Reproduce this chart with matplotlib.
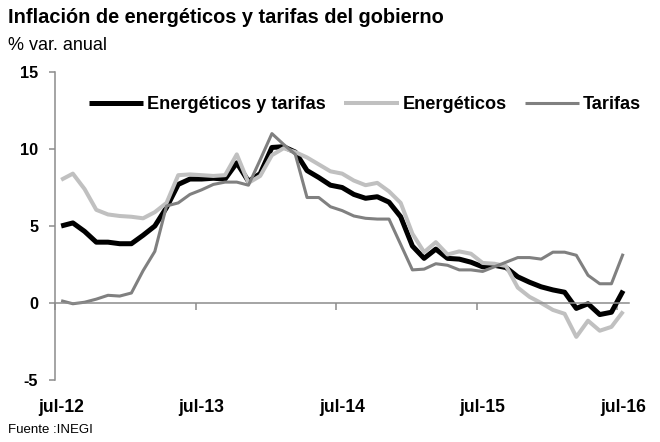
import numpy as np
import pandas as pd
import matplotlib
matplotlib.use("Agg")
import matplotlib.pyplot as plt
import matplotlib.transforms as mtransforms
from matplotlib import font_manager

# datos mensuales, jul-12 a jul-16 (% var. anual)
meses = pd.date_range("2012-07-01", "2016-07-01", freq="MS")
energ_tarifas = [5.0, 5.2, 4.65, 3.95, 3.95, 3.85, 3.85, 4.4, 5.0, 6.2, 7.7, 8.05,
                 8.05, 8.1, 8.05, 9.1, 7.9, 8.4, 10.1, 10.15, 9.8, 8.6, 8.15, 7.65,
                 7.5, 7.05, 6.8, 6.9, 6.55, 5.6, 3.7, 2.9, 3.5, 2.9, 2.85, 2.65,
                 2.35, 2.45, 2.3, 1.7, 1.35, 1.05, 0.85, 0.7, -0.35, -0.05, -0.75, -0.6,
                 0.8]
energeticos = [8.0, 8.4, 7.4, 6.05, 5.75, 5.65, 5.6, 5.5, 5.9, 6.5, 8.3, 8.35,
               8.3, 8.25, 8.3, 9.65, 7.8, 8.25, 9.6, 10.05, 9.8, 9.45, 9.0, 8.55,
               8.4, 7.95, 7.65, 7.8, 7.25, 6.5, 4.5, 3.3, 3.95, 3.15, 3.35, 3.2,
               2.6, 2.55, 2.4, 1.0, 0.4, 0.0, -0.45, -0.7, -2.2, -1.15, -1.8, -1.55,
               -0.55]
tarifas = [0.15, -0.05, 0.05, 0.25, 0.5, 0.45, 0.65, 2.1, 3.35, 6.3, 6.5, 7.05,
           7.35, 7.7, 7.85, 7.85, 7.65, 9.3, 11.0, 10.3, 9.65, 6.85, 6.85, 6.25,
           6.0, 5.65, 5.5, 5.45, 5.45, 3.8, 2.15, 2.2, 2.55, 2.45, 2.15, 2.15,
           2.05, 2.35, 2.65, 2.95, 2.95, 2.85, 3.3, 3.3, 3.1, 1.8, 1.25, 1.25,
           3.2]
y_ticks = [-5, 0, 5, 10, 15]

# fuente estrecha si existe
disponibles = {f.name for f in font_manager.fontManager.ttflist}
if "Liberation Sans Narrow" in disponibles:
    estrecha, k = "Liberation Sans Narrow", 1.0
else:
    estrecha, k = "Liberation Sans", 0.87
plt.rcParams["font.family"] = ["Liberation Sans", "DejaVu Sans"]

gris = "#8c8c8c"
x = np.arange(len(meses))

fig = plt.figure(figsize=(6.6, 4.42), dpi=100)
ax = fig.add_axes([55.3 / 660, 1 - 380 / 442, 573.7 / 660, 308 / 442])

ax.plot(x, energ_tarifas, color="black", lw=3.6, label="Energéticos y tarifas",
        solid_joinstyle="round", solid_capstyle="butt")
ax.plot(x, energeticos, color="#c0c0c0", lw=2.9, label="Energéticos",
        solid_joinstyle="round", solid_capstyle="butt")
ax.plot(x, tarifas, color="#808080", lw=2.2, label="Tarifas",
        solid_joinstyle="round", solid_capstyle="butt")

ax.set_xlim(-0.5, len(meses) - 0.5)
ax.set_ylim(-5, 15)

for s in ["top", "right"]:
    ax.spines[s].set_visible(False)
ax.spines["left"].set_color(gris)
ax.spines["left"].set_linewidth(1.1)
ax.spines["bottom"].set_position(("data", 0))
ax.spines["bottom"].set_color(gris)
ax.spines["bottom"].set_linewidth(1.1)

ax.set_yticks(y_ticks)
ax.set_yticklabels([str(v) for v in y_ticks], fontfamily=estrecha,
                   fontweight="bold", fontsize=13.4 * k)
ax.tick_params(axis="y", direction="out", length=4.3, width=1.1, color=gris, pad=8)

# marcas del eje x entre categorías, cada 12 meses
ax.set_xticks(np.arange(-0.5, len(meses), 12))
ax.set_xticklabels([])
ax.tick_params(axis="x", direction="out", length=5, width=1.1, color=gris)

trans = mtransforms.blended_transform_factory(ax.transData, ax.transAxes)
for i, m in enumerate(meses):
    if m.month == 7:
        ax.text(i, -0.088, f"jul-{m.strftime('%y')}", transform=trans, ha="center",
                va="center", fontfamily=estrecha, fontweight="bold", fontsize=14.5 * k)

leg = ax.legend(loc="center left", bbox_to_anchor=(0.0587, 0.893), ncol=3,
                frameon=False, borderpad=0, borderaxespad=0, handlelength=3.0,
                handletextpad=0.22, columnspacing=1.0,
                prop={"family": estrecha, "weight": "bold", "size": 15 * k})

fig.text(8 / 660, 1 - 8 / 442, "Inflación de energéticos y tarifas del gobierno",
         fontweight="bold", fontsize=14.4, va="top", ha="left")
fig.text(8 / 660, 1 - 37 / 442, "% var. anual", fontsize=13, va="top", ha="left")
fig.text(8 / 660, 1 - 424 / 442, "Fuente :INEGI", fontfamily=estrecha,
         fontsize=11 * k, va="top", ha="left")

fig.savefig("out.png", dpi=100)
